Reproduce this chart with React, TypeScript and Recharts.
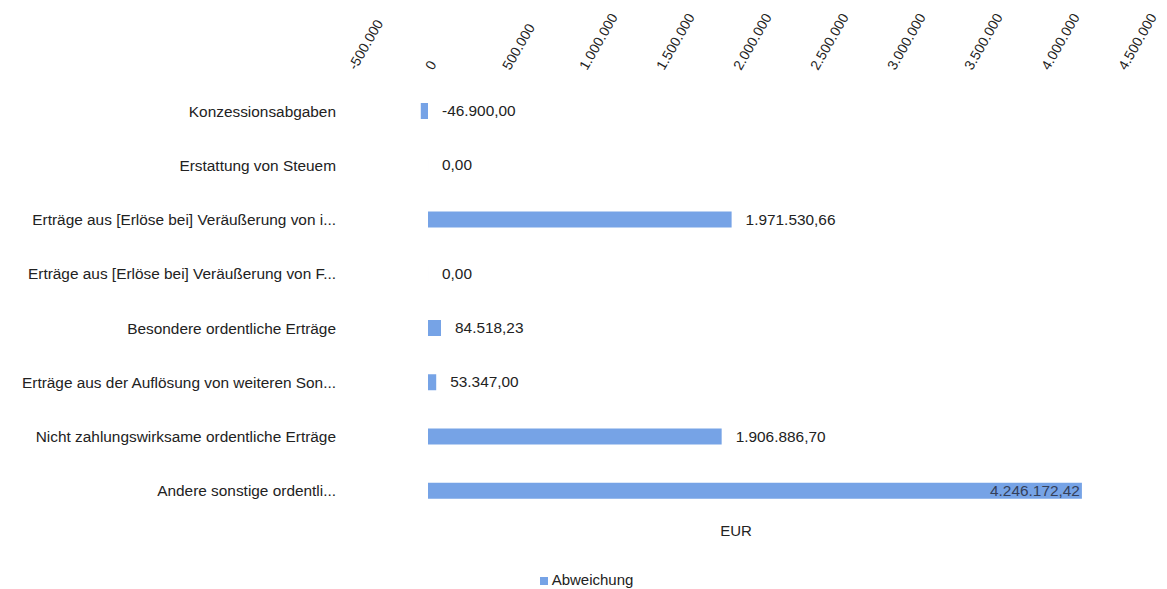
import React from 'react';
import { BarChart, Bar, XAxis, YAxis, Legend, LabelList } from 'recharts';

const categories = [
  'Konzessionsabgaben',
  'Erstattung von Steuem',
  'Erträge aus [Erlöse bei] Veräußerung von i...',
  'Erträge aus [Erlöse bei] Veräußerung von F...',
  'Besondere ordentliche Erträge',
  'Erträge aus der Auflösung von weiteren Son...',
  'Nicht zahlungswirksame ordentliche Erträge',
  'Andere sonstige ordentli...',
];
const abweichung = [-46900, 0, 1971530.66, 0, 84518.23, 53347, 1906886.7, 4246172.42];
const xTicks = [-500000, 0, 500000, 1000000, 1500000, 2000000, 2500000, 3000000, 3500000, 4000000, 4500000];

const data = categories.map((name, i) => ({ name, value: abweichung[i] }));
const maxVal = Math.max(...abweichung);

const FONT = '"Liberation Sans", Arial, sans-serif';
const BAR = '#76a3e6';

function fmtDE(v: number, decimals: number): string {
  const neg = v < 0;
  const abs = Math.abs(v);
  const fixed = abs.toFixed(decimals);
  const [intPart, dec] = fixed.split('.');
  const grouped = intPart.replace(/\B(?=(\d{3})+(?!\d))/g, '.');
  return (neg ? '-' : '') + grouped + (dec ? ',' + dec : '');
}

const XTick = (props: any) => {
  const { x, y, payload } = props;
  return (
    <g transform={`translate(${x + 5},${y - 5})`}>
      <text x={0} y={0} transform="rotate(-60)" textAnchor="start" fontSize={14} fill="#222" fontFamily={FONT}>
        {fmtDE(payload.value, 0)}
      </text>
    </g>
  );
};

const renderLabel = (props: any) => {
  const vb = props.viewBox || props;
  const x = Number(vb.x ?? props.x);
  const y = Number(vb.y ?? props.y);
  const width = Number(vb.width ?? props.width ?? 0);
  const height = Number(vb.height ?? props.height ?? 0);
  const value = Number(props.value);
  const right = Math.max(x, x + width);
  const cy = y + height / 2;
  if (value === maxVal) {
    return (
      <text x={right - 2} y={cy} dy={5} textAnchor="end" fontSize={15.4} fill="#34405a" fontFamily={FONT}>
        {fmtDE(value, 2)}
      </text>
    );
  }
  return (
    <text x={right + 14} y={cy} dy={5} textAnchor="start" fontSize={15.4} fill="#222" fontFamily={FONT}>
      {fmtDE(value, 2)}
    </text>
  );
};

export default function App() {
  return (
    <div style={{ fontFamily: FONT }}>
      <BarChart
        width={1159}
        height={581}
        data={data}
        layout="vertical"
        margin={{ top: 0, right: 46, bottom: 0, left: 0 }}
        style={{ fontFamily: FONT }}
      >
        <XAxis
          type="number"
          orientation="top"
          domain={[-500000, 4500000]}
          ticks={xTicks}
          axisLine={false}
          tickLine={false}
          height={76}
          tick={<XTick />}
          interval={0}
          allowDataOverflow
        />
        <XAxis
          xAxisId="b"
          type="number"
          orientation="bottom"
          domain={[-500000, 4500000]}
          axisLine={false}
          tickLine={false}
          tick={false}
          height={53}
          label={{ value: 'EUR', position: 'insideTop', offset: 7, fontSize: 15, fill: '#222', fontFamily: FONT }}
        />
        <YAxis
          type="category"
          dataKey="name"
          width={343}
          axisLine={false}
          tickLine={false}
          tickMargin={9}
          interval={0}
          tick={{ fontSize: 15.4, fill: '#222', fontFamily: FONT }}
        />
        <Legend
          verticalAlign="bottom"
          align="center"
          iconType="square"
          iconSize={8}
          wrapperStyle={{ left: 0, width: 1167 }}
          formatter={(v: any) => <span style={{ color: '#222', fontSize: 15, fontFamily: FONT }}>{v}</span>}
        />
        <Bar dataKey="value" name="Abweichung" fill={BAR} barSize={16} minPointSize={0.01} isAnimationActive={false}>
          <LabelList dataKey="value" content={renderLabel} />
        </Bar>
      </BarChart>
    </div>
  );
}
